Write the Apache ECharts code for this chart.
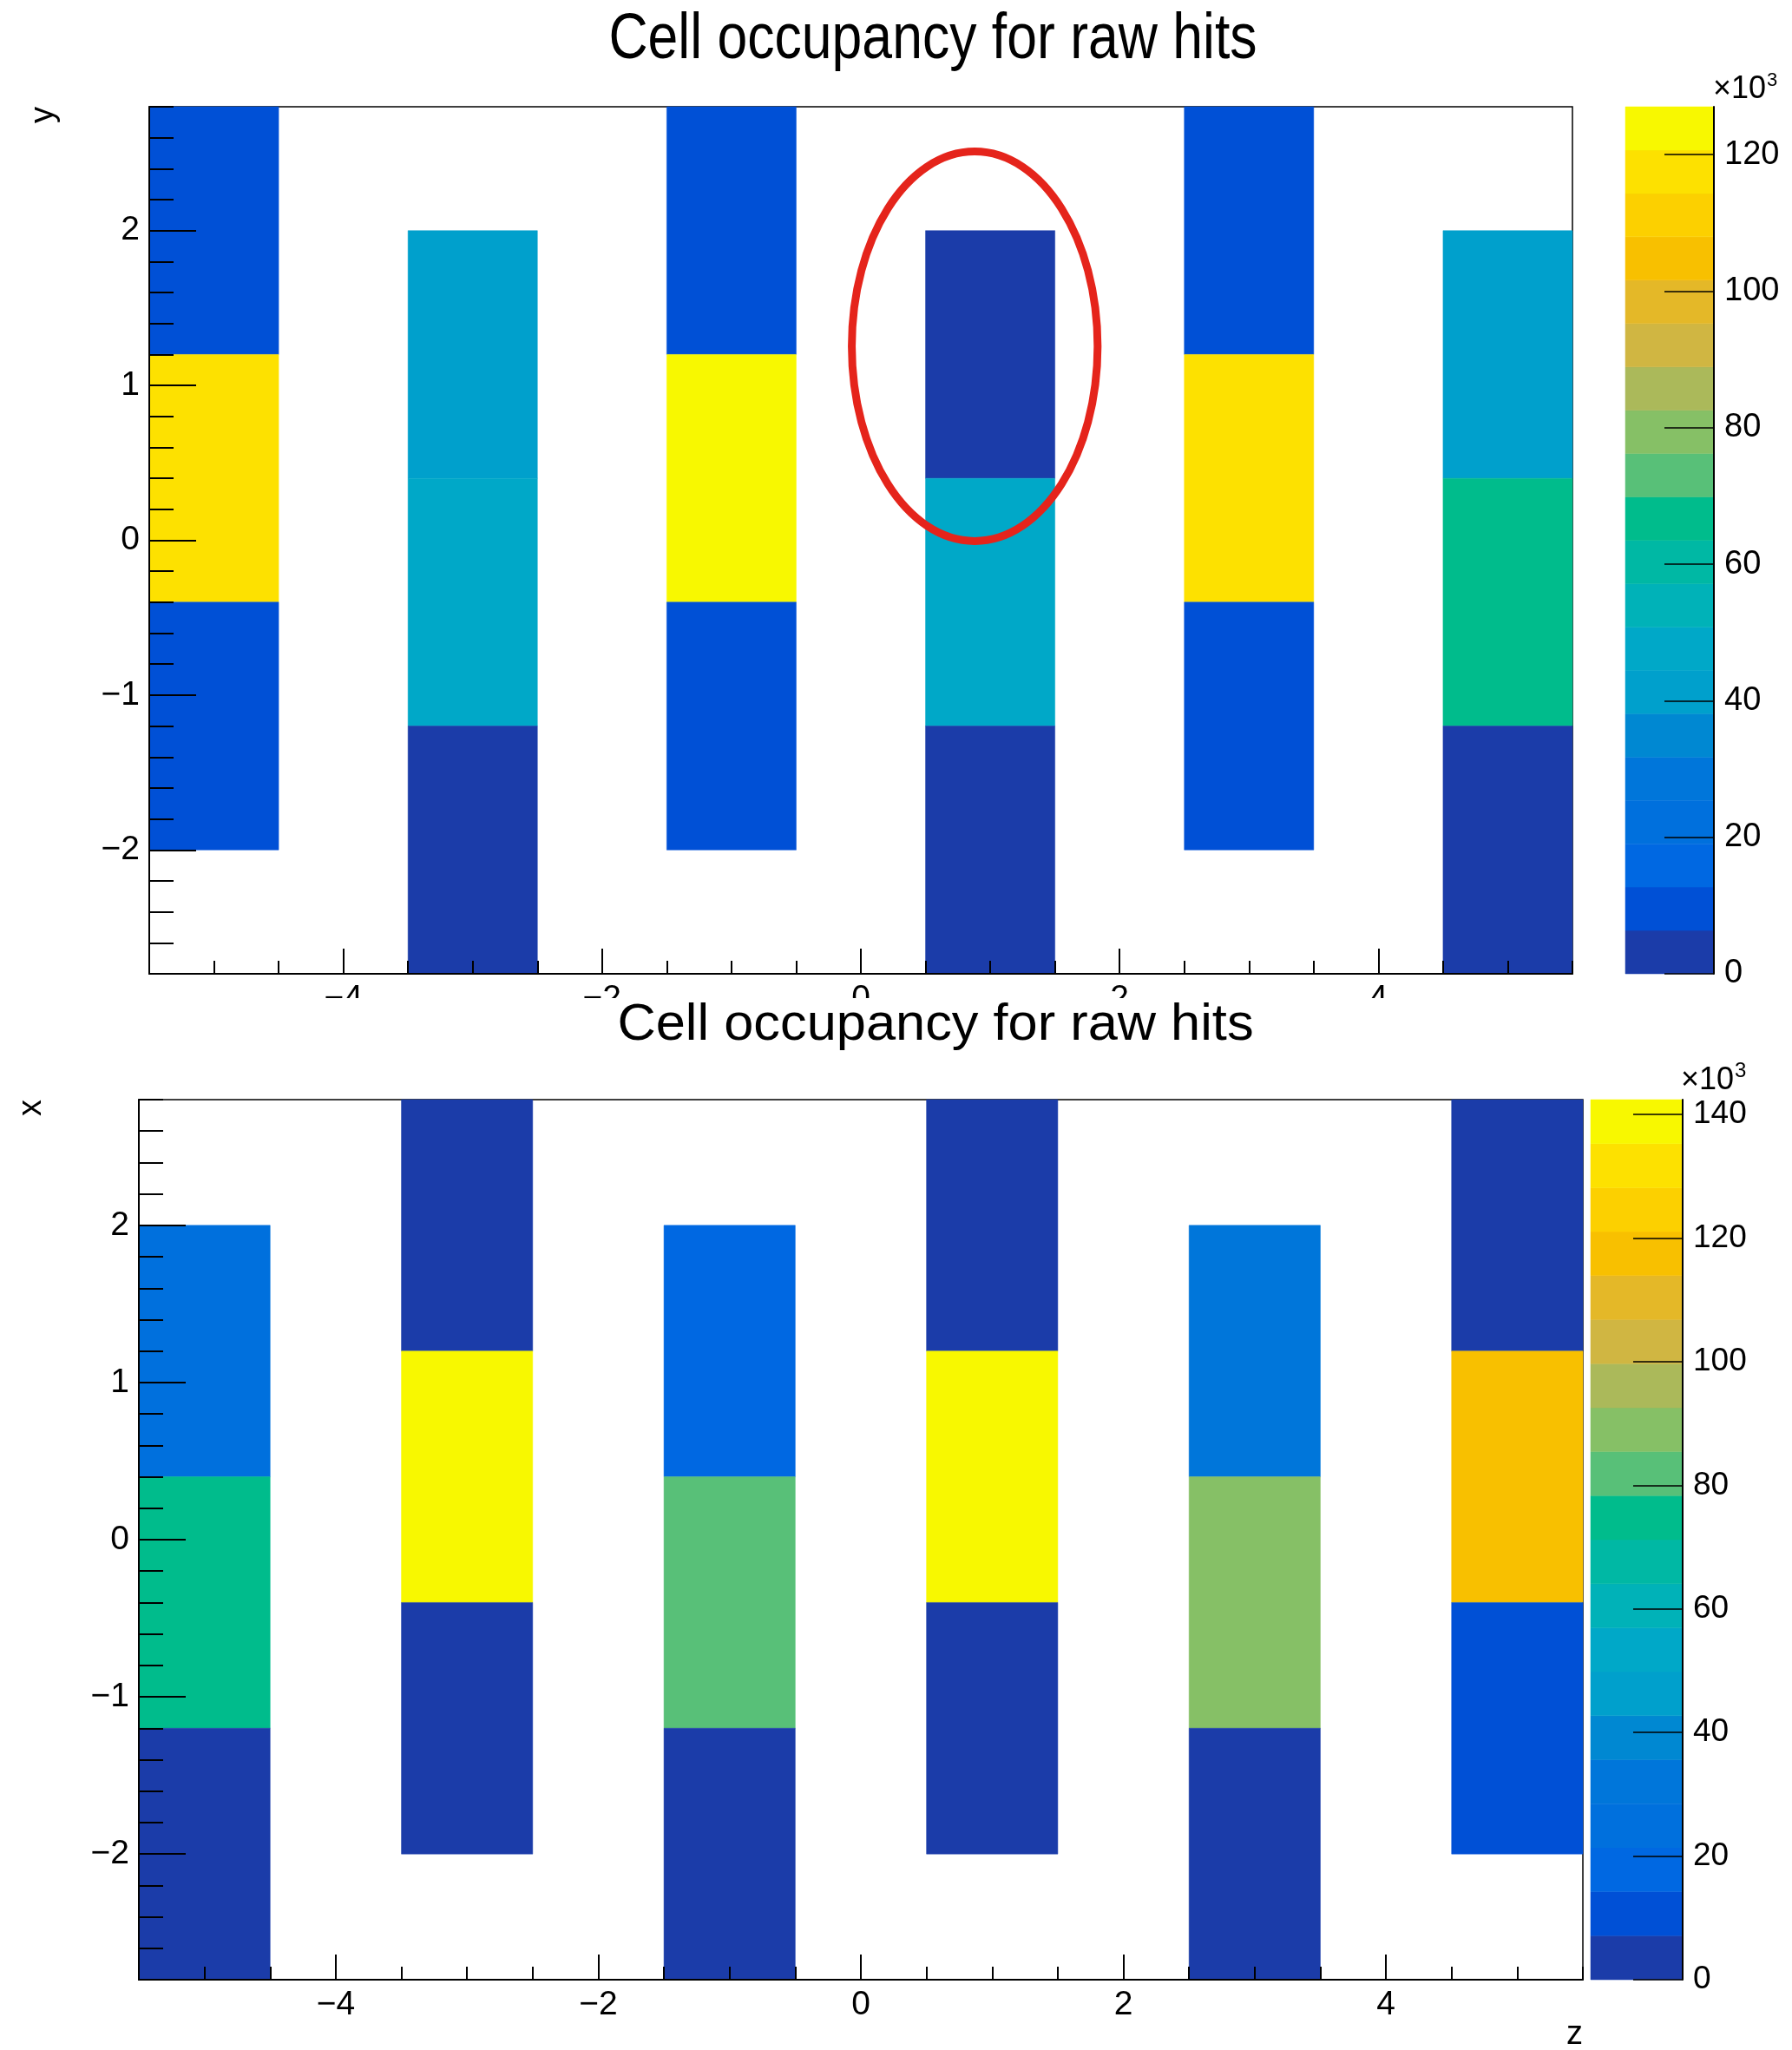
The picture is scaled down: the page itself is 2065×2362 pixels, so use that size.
<!DOCTYPE html>
<html>
<head>
<meta charset="utf-8">
<title>Cell occupancy for raw hits</title>
<script src="https://cdn.jsdelivr.net/npm/echarts@6/dist/echarts.min.js"></script>
<style>html,body{margin:0;padding:0;background:#fff}</style>
</head>
<body>
<div id="main" style="width:2065px;height:2362px;"></div>
<script>
// cells: [z centre, lower edge, upper edge, hits]
const topCells = [
  [-5, 1.2, 2.8, 9500], [-5, -0.4, 1.2, 118000], [-5, -2.0, -0.4, 9800],
  [-3, 0.4, 2.0, 41000], [-3, -1.2, 0.4, 47500], [-3, -2.8, -1.2, 3000],
  [-1, 1.2, 2.8, 9600], [-1, -0.4, 1.2, 127000], [-1, -2.0, -0.4, 9700],
  [1, 0.4, 2.0, 2500], [1, -1.2, 0.4, 47000], [1, -2.8, -1.2, 3100],
  [3, 1.2, 2.8, 9400], [3, -0.4, 1.2, 117500], [3, -2.0, -0.4, 9900],
  [5, 0.4, 2.0, 41500], [5, -1.2, 0.4, 66000], [5, -2.8, -1.2, 2900]
];
const bottomCells = [
  [-5, 0.4, 2.0, 25000], [-5, -1.2, 0.4, 74000], [-5, -2.8, -1.2, 3000],
  [-3, 1.2, 2.8, 3200], [-3, -0.4, 1.2, 141000], [-3, -2.0, -0.4, 3100],
  [-1, 0.4, 2.0, 18000], [-1, -1.2, 0.4, 82000], [-1, -2.8, -1.2, 2900],
  [1, 1.2, 2.8, 3300], [1, -0.4, 1.2, 142400], [1, -2.0, -0.4, 3000],
  [3, 0.4, 2.0, 29000], [3, -1.2, 0.4, 89000], [3, -2.8, -1.2, 2800],
  [5, 1.2, 2.8, 3400], [5, -0.4, 1.2, 117000], [5, -2.0, -0.4, 11000]
];
// red ring drawn round one cell: [z, y, half width, half height]
const marked = [[0.88, 1.253, 0.95, 1.258]];

const zMajor = [-4, -2, 0, 2, 4];
const yMajor = [-2, -1, 0, 1, 2];
const zMinor = [];
for (let i = 0; i <= 22; i++) zMinor.push(-5.5 + i * 0.5);
const yMinor = [];
for (let i = 0; i <= 28; i++) yMinor.push(+(-2.8 + i * 0.2).toFixed(2));

const palette = ['#1b3ca9','#0050d6','#0068e2','#0070dd','#0076da','#0088d2','#00a0cc','#00a8c8',
  '#00b2b8','#00b8a4','#00bc8c','#58c078','#86c066','#abb95a','#d0b642','#e4b828',
  '#f8c000','#fcd000','#fde100','#f8f800'];
const nBands = palette.length;
const topMax = Math.max(...topCells.map(c => c[3]));
const bottomMax = Math.max(...bottomCells.map(c => c[3]));

const FONT = '"Liberation Sans", Arial, sans-serif';
const black = '#000';

function bands(zMax) {
  const w = zMax / nBands;
  return palette.map((c, i) => [0, i * w, (i + 1) * w, (i + 0.5) * w]);
}
function pieces(zMax) {
  const w = zMax / nBands;
  return palette.map((c, i) => ({gte: i * w, lt: i === nBands - 1 ? zMax * 1.01 : (i + 1) * w, color: c}));
}
function cbTicks(zMax) {
  const t = [];
  for (let v = 0; v <= zMax; v += 20000) t.push(v);
  return t;
}
const minus = v => String(v).replace('-', '\u2212');

function renderCell(params, api) {
  const a = api.coord([api.value(0) - 0.5, api.value(2)]);
  const b = api.coord([api.value(0) + 0.5, api.value(1)]);
  const col = api.visual('color');
  return {type: 'rect', shape: {x: a[0], y: a[1], width: b[0] - a[0], height: b[1] - a[1]},
    style: {fill: col, stroke: col, lineWidth: 0.5}};
}
function renderBand(params, api) {
  const a = api.coord([0, api.value(2)]);
  const b = api.coord([1, api.value(1)]);
  const col = api.visual('color');
  return {type: 'rect', shape: {x: a[0], y: a[1], width: b[0] - a[0], height: b[1] - a[1]},
    style: {fill: col, stroke: col, lineWidth: 0.5}};
}
function renderRing(params, api) {
  const c = api.coord([api.value(0), api.value(1)]);
  const s = api.size([api.value(2), api.value(3)]);
  return {type: 'ellipse', shape: {cx: c[0], cy: c[1], rx: s[0], ry: s[1]},
    style: {fill: 'none', stroke: '#e5241b', lineWidth: 9}};
}

function mainX(gi, fs) {
  return [{
    gridIndex: gi, type: 'value', position: 'bottom', min: -5.5, max: 5.5, z: 5,
    axisLine: {show: true, onZero: false, lineStyle: {color: black, width: 2}},
    axisTick: {customValues: zMajor, inside: true, length: 29, lineStyle: {color: black, width: 2}},
    axisLabel: {customValues: zMajor, formatter: minus, margin: 10, fontSize: fs, fontFamily: FONT, color: black},
    splitLine: {show: false}
  }, {
    gridIndex: gi, type: 'value', position: 'bottom', min: -5.5, max: 5.5, z: 5,
    axisLine: {show: false, onZero: false}, axisLabel: {show: false}, splitLine: {show: false},
    axisTick: {customValues: zMinor, inside: true, length: 15, lineStyle: {color: black, width: 2}}
  }];
}
function mainY(gi, fs) {
  return [{
    gridIndex: gi, type: 'value', position: 'left', min: -2.8, max: 2.8, z: 5,
    axisLine: {show: true, onZero: false, lineStyle: {color: black, width: 2}},
    axisTick: {customValues: yMajor, inside: true, length: 54, lineStyle: {color: black, width: 2}},
    axisLabel: {customValues: yMajor, formatter: minus, margin: 11, fontSize: fs, fontFamily: FONT, color: black},
    splitLine: {show: false}
  }, {
    gridIndex: gi, type: 'value', position: 'left', min: -2.8, max: 2.8, z: 5,
    axisLine: {show: false, onZero: false}, axisLabel: {show: false}, splitLine: {show: false},
    axisTick: {customValues: yMinor, inside: true, length: 28, lineStyle: {color: black, width: 2}}
  }];
}
function barX(gi) {
  return {gridIndex: gi, type: 'value', min: 0, max: 1, show: false};
}
function barY(gi, zMax, fs) {
  return {
    gridIndex: gi, type: 'value', position: 'right', min: 0, max: zMax, z: 5,
    axisLine: {show: true, onZero: false, lineStyle: {color: black, width: 2}},
    axisTick: {customValues: cbTicks(zMax), inside: true, length: 57, lineStyle: {color: black, width: 1.5}},
    axisLabel: {customValues: cbTicks(zMax), formatter: v => v / 1000, margin: 12, fontSize: fs, fontFamily: FONT, color: black},
    splitLine: {show: false}
  };
}

const chart = echarts.init(document.getElementById('main'));
const option = {
  animation: false,
  backgroundColor: '#fff',
  grid: [
    {left: 172, top: 123, width: 1640, height: 999, show: true, borderColor: black, borderWidth: 1.5},
    {left: 1873, top: 123, width: 102, height: 999},
    {left: 160, top: 1267, width: 1664, height: 1014, show: true, borderColor: black, borderWidth: 1.5},
    {left: 1833, top: 1267, width: 106, height: 1014}
  ],
  xAxis: [...mainX(0, 39), barX(1), ...mainX(2, 39), barX(3)],
  yAxis: [...mainY(0, 39), barY(1, topMax, 38), ...mainY(2, 39), barY(3, bottomMax, 37)],
  visualMap: [
    {type: 'piecewise', show: false, dimension: 3, seriesIndex: [0, 1], pieces: pieces(topMax)},
    {type: 'piecewise', show: false, dimension: 3, seriesIndex: [2, 3], pieces: pieces(bottomMax)}
  ],
  series: [
    {type: 'custom', xAxisIndex: 0, yAxisIndex: 0, renderItem: renderCell, encode: {x: 0, y: [1, 2]}, data: topCells},
    {type: 'custom', xAxisIndex: 2, yAxisIndex: 2, renderItem: renderBand, encode: {y: [1, 2]}, data: bands(topMax)},
    {type: 'custom', xAxisIndex: 3, yAxisIndex: 3, renderItem: renderCell, encode: {x: 0, y: [1, 2]}, data: bottomCells},
    {type: 'custom', xAxisIndex: 5, yAxisIndex: 5, renderItem: renderBand, encode: {y: [1, 2]}, data: bands(bottomMax)},
    {type: 'custom', xAxisIndex: 0, yAxisIndex: 0, renderItem: renderRing, encode: {x: 0, y: 1}, data: marked, z: 10}
  ],
  graphic: [
    {type: 'rect', z: 50, shape: {x: 0, y: 1150, width: 2065, height: 66}, style: {fill: '#fff'}},
    {type: 'text', z: 100, x: 1075, y: 47, scaleX: 0.845,
      style: {text: 'Cell occupancy for raw hits', font: '74px ' + FONT, fill: black, align: 'center', verticalAlign: 'middle'}},
    {type: 'text', z: 100, x: 1078, y: 1182, scaleX: 1.04,
      style: {text: 'Cell occupancy for raw hits', font: '59px ' + FONT, fill: black, align: 'center', verticalAlign: 'middle'}},
    {type: 'text', z: 100, x: 51, y: 123, rotation: Math.PI / 2,
      style: {text: 'y', font: '38px ' + FONT, fill: black, align: 'right', verticalAlign: 'middle'}},
    {type: 'text', z: 100, x: 37, y: 1267, rotation: Math.PI / 2,
      style: {text: 'x', font: '38px ' + FONT, fill: black, align: 'right', verticalAlign: 'middle'}},
    {type: 'text', z: 100, x: 1824, y: 2326,
      style: {text: 'z', font: '38px ' + FONT, fill: black, align: 'right', verticalAlign: 'top'}},
    {type: 'text', z: 100, x: 1974, y: 121,
      style: {text: '\u00d710', font: '36px ' + FONT, fill: black, align: 'left', verticalAlign: 'bottom'}},
    {type: 'text', z: 100, x: 2036, y: 82,
      style: {text: '3', font: '22px ' + FONT, fill: black, align: 'left', verticalAlign: 'top'}},
    {type: 'text', z: 100, x: 1937, y: 1263,
      style: {text: '\u00d710', font: '36px ' + FONT, fill: black, align: 'left', verticalAlign: 'bottom'}},
    {type: 'text', z: 100, x: 1999, y: 1222,
      style: {text: '3', font: '24px ' + FONT, fill: black, align: 'left', verticalAlign: 'top'}}
  ]
};
chart.setOption(option);
</script>
</body>
</html>
